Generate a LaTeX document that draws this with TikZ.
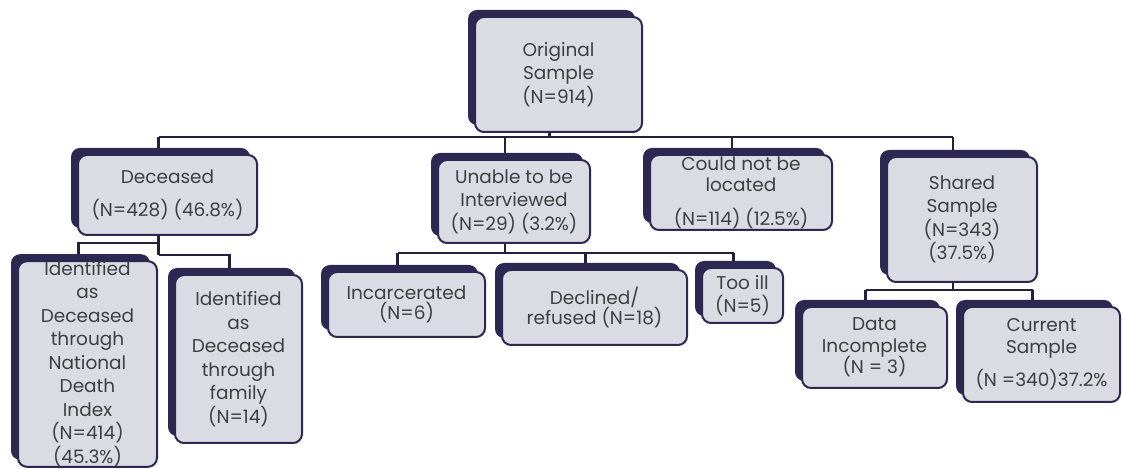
\documentclass[tikz,border=0pt]{standalone}
\usepackage{fontspec}
\setmainfont{Poppins}
\usetikzlibrary{shadows,calc,backgrounds}
\definecolor{navy}{RGB}{44,40,82}
\definecolor{boxfill}{RGB}{219,219,227}
\definecolor{txt}{RGB}{62,62,66}
\definecolor{linec}{RGB}{35,32,60}
\begin{document}
\begin{tikzpicture}[x=1pt,y=1pt,
  box/.style={draw=navy, line width=2pt, fill=boxfill, rounded corners=9pt,
    general shadow={fill=navy, shadow xshift=-7pt, shadow yshift=7pt},
    text=txt, align=center, inner sep=0pt,
    font=\fontsize{18.5}{23.5}\selectfont},
  conn/.style={draw=linec, line width=2.2pt}]
\useasboundingbox (0,0) rectangle (1123,468);
% boxes
\node[box, minimum width=167, minimum height=115] (orig) at (558.5,393.5) {Original\\Sample\\(N=914)};
\node[box, minimum width=179, minimum height=80] (dec) at (167.5,273) {Deceased\\[10pt](N=428) (46.8\%)};
\node[box, minimum width=152, minimum height=83] (unab) at (514,266.5) {Unable to be\\Interviewed\\(N=29) (3.2\%)};
\node[box, minimum width=182, minimum height=75] (loc) at (741,275.5) {Could not be\\[-2pt]located\\[10pt](N=114) (12.5\%)};
\node[box, minimum width=150, minimum height=125] (shared) at (962,248.5) {Shared\\Sample\\(N=343)\\(37.5\%)};
\node[box, minimum width=139, minimum height=204] (ndi) at (87.5,104) {Identified\\as\\Deceased\\through\\National\\Death\\Index\\(N=414)\\(45.3\%)};
\node[box, minimum width=127, minimum height=168] (fam) at (238.5,109) {Identified\\as\\Deceased\\through\\family\\(N=14)};
\node[box, minimum width=157, minimum height=65] (inc) at (406.5,163.5) {Incarcerated\\[-3pt](N=6)};
\node[box, minimum width=185, minimum height=75] (decl) at (594.5,160.5) {Declined/\\[-4pt]refused (N=18)};
\node[box, minimum width=81, minimum height=55] (ill) at (742.5,172.5) {Too ill\\(N=5)};
\node[box, minimum width=145, minimum height=81] (data) at (874.5,120.5) {Data\\[-2pt]Incomplete\\[-2pt](N = 3)};
\node[box, minimum width=157, minimum height=95] (curr) at (1041.5,113.5) {Current\\[-2pt]Sample\\[10pt](N =340)37.2\%};
% connector x positions
\foreach \n in {orig,dec,unab,loc,shared,ndi,fam,inc,decl,ill,data,curr}
  \coordinate (x\n) at ($(\n.center)+(-9,0)$);
\coordinate (busA) at (0,331);
\coordinate (busD1) at (0,225);
\coordinate (busD2) at (0,213);
\coordinate (busU) at (0,215);
\coordinate (busS) at (0,178);
\begin{scope}[on background layer]
\draw[conn] (xorig |- orig.south) -- (xorig |- busA);
\draw[conn] (xdec |- busA) -- (xshared |- busA);
\foreach \n in {dec,unab,loc,shared}
  \draw[conn] (x\n |- busA) -- (x\n |- \n.north);
\draw[conn] (xdec |- dec.south) -- (xdec |- busD2);
\draw[conn] (xdec |- busD1) -- (xndi |- busD1) -- (xndi |- ndi.north);
\draw[conn] (xdec |- busD2) -- (xfam |- busD2) -- (xfam |- fam.north);
\draw[conn] (xunab |- unab.south) -- (xunab |- busU);
\draw[conn] (xinc |- busU) -- (xill |- busU);
\foreach \n in {inc,decl,ill}
  \draw[conn] (x\n |- busU) -- (x\n |- \n.north);
\draw[conn] (xshared |- shared.south) -- (xshared |- busS);
\draw[conn] (xdata |- busS) -- (xcurr |- busS);
\foreach \n in {data,curr}
  \draw[conn] (x\n |- busS) -- (x\n |- \n.north);
\end{scope}
\end{tikzpicture}
\end{document}
